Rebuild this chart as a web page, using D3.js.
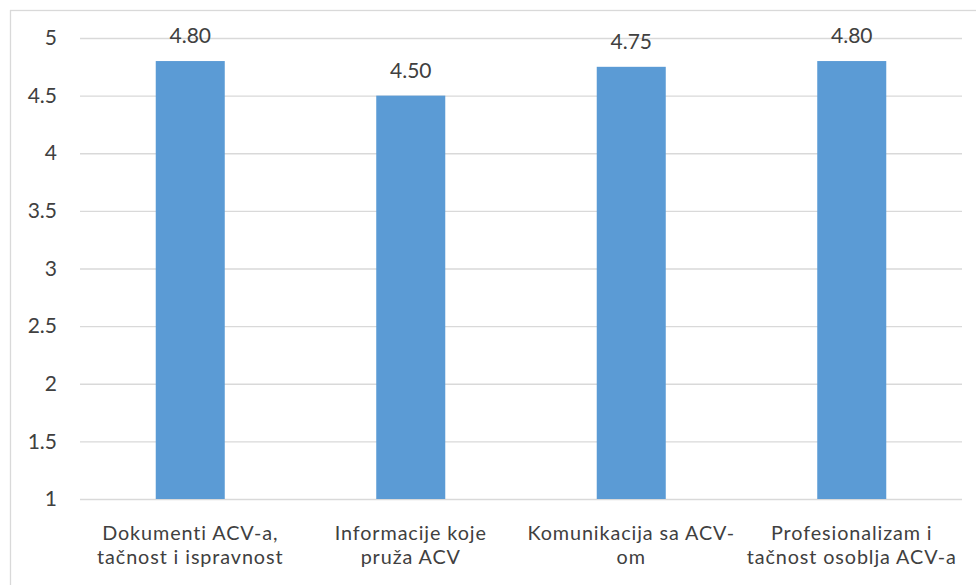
<!DOCTYPE html>
<html><head><meta charset="utf-8">
<script src="https://cdn.jsdelivr.net/npm/d3@7"></script>
<style>body{margin:0;background:#fff}svg{display:block}text{font-family:Lato,"Open Sans",sans-serif;fill:#404040}</style>
</head><body><svg id="c" width="976" height="585"></svg>
<script>
const categories = [
  ["Dokumenti ACV-a,", "tačnost i ispravnost"],
  ["Informacije koje", "pruža ACV"],
  ["Komunikacija sa ACV-", "om"],
  ["Profesionalizam i", "tačnost osoblja ACV-a"]
];
const values = [4.80, 4.50, 4.75, 4.80];
const yTicks = [1, 1.5, 2, 2.5, 3, 3.5, 4, 4.5, 5];

const svg = d3.select("#c");
const mLeft = 80, mRight = 962, mTop = 38, mBottom = 499;

svg.append("rect").attr("x", 10.5).attr("y", 10.5).attr("width", 1000).attr("height", 1000)
  .attr("fill", "none").attr("stroke", "#d9d9d9").attr("stroke-width", 1.3);

const x = d3.scaleBand().domain(d3.range(categories.length)).range([mLeft, mRight])
  .paddingInner(0.687).paddingOuter(0.687 / 2);
const y = d3.scaleLinear().domain([1, 5]).range([mBottom, mTop]);

const yAxis = d3.axisLeft(y).tickValues(yTicks).tickSize(-(mRight - mLeft)).tickPadding(23)
  .tickFormat(d => String(d));
const gy = svg.append("g").attr("transform", `translate(${mLeft},0)`).call(yAxis);
gy.select(".domain").remove();
gy.selectAll(".tick line").attr("stroke", "#d9d9d9").attr("stroke-width", 1.3);
gy.selectAll(".tick text").style("font-size", "21px").attr("fill", "#404040").attr("font-family", null);

svg.selectAll("rect.bar").data(values).join("rect").attr("class", "bar")
  .attr("x", (d, i) => x(i)).attr("width", x.bandwidth())
  .attr("y", d => y(d)).attr("height", d => y(1) - y(d))
  .attr("fill", "#5b9bd5");

svg.selectAll("text.val").data(values).join("text").attr("class", "val")
  .attr("x", (d, i) => x(i) + x.bandwidth() / 2).attr("y", d => y(d) - 18)
  .attr("text-anchor", "middle").style("font-size", "21px").text(d => d.toFixed(2));

const xAxis = d3.axisBottom(x).tickSize(0).tickFormat("");
const gx = svg.append("g").attr("transform", `translate(0,${mBottom})`).call(xAxis);
gx.select(".domain").remove();

categories.forEach((lines, i) => {
  lines.forEach((ln, j) => {
    svg.append("text").attr("text-anchor", "middle").style("font-size", "19.8px")
      .style("letter-spacing", "0.9px")
      .attr("x", x(i) + x.bandwidth() / 2).attr("y", 540 + j * 24).text(ln);
  });
});
</script></body></html>
